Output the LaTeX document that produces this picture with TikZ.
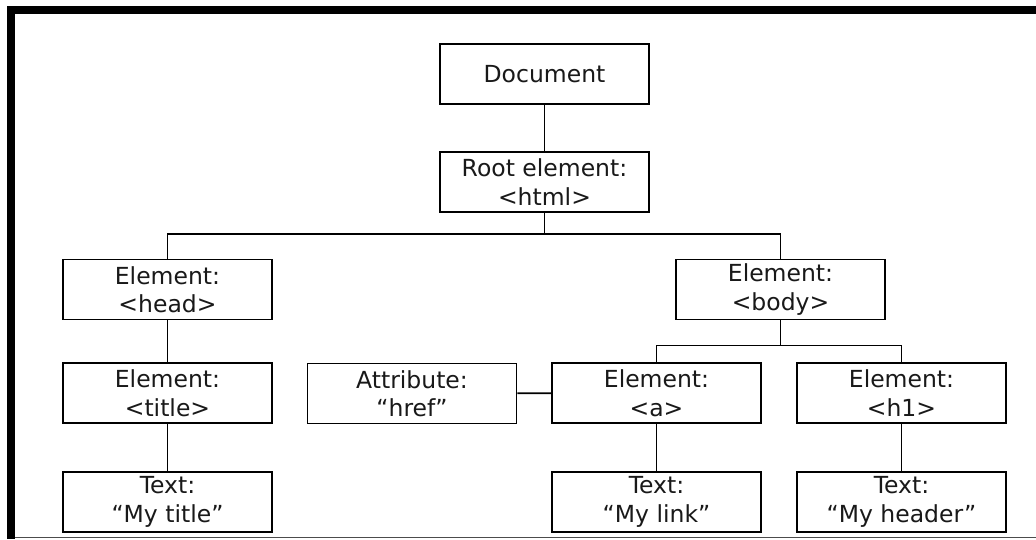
\documentclass[tikz,border=0pt]{standalone}
\usepackage{fontspec}
\setmainfont{DejaVu Sans}
\begin{document}
\begin{tikzpicture}[x=1pt,y=-1pt,
  box/.style={draw=black, line width=1.6pt, fill=white,
    minimum width=209pt, minimum height=60pt, inner sep=0pt, align=center,
    font=\fontsize{23.5}{28.5}\selectfont, text=black!90},
  link/.style={draw=black, line width=1.6pt}]
  % canvas and frame
  \useasboundingbox (0,0) rectangle (1036,539);
  \fill[white] (0,0) rectangle (1036,539);
  \fill[black] (7,6) rectangle (1036,14);
  \fill[black] (7,6) rectangle (15,539);
  \draw[black!70, line width=1.5pt] (15,537.5) -- (1036,537.5);

  % tree nodes
  \node[box] (doc)   at (544.5,74)   {Document};
  \node[box] (root)  at (544.5,182)  {Root element:\\<html>};
  \node[box] (head)  at (167.5,289.5) {Element:\\<head>};
  \node[box] (body)  at (780.5,289.5) {Element:\\<body>};
  \node[box] (title) at (167.5,393)  {Element:\\<title>};
  \node[box] (attr)  at (412,393.5)  {Attribute:\\“href”};
  \node[box] (a)     at (656.5,393)  {Element:\\<a>};
  \node[box] (h1)    at (901.5,393)  {Element:\\<h1>};
  \node[box] (ttext) at (167.5,502)  {Text:\\“My title”};
  \node[box] (atext) at (656.5,502)  {Text:\\“My link”};
  \node[box] (htext) at (901.5,502)  {Text:\\“My header”};

  % connectors
  \draw[link] (doc) -- (root);
  \draw[link] (root.south) -- ++(0,21) coordinate (rbus);
  \draw[link] (head.north) |- (rbus) -| (body.north);
  \draw[link] (head) -- (title);
  \draw[link] (title) -- (ttext);
  \draw[link] (body.south) -- ++(0,25) coordinate (bbus);
  \draw[link] (a.north) |- (bbus) -| (h1.north);
  \draw[link] (attr) -- (a);
  \draw[link] (a) -- (atext);
  \draw[link] (h1) -- (htext);
\end{tikzpicture}
\end{document}
